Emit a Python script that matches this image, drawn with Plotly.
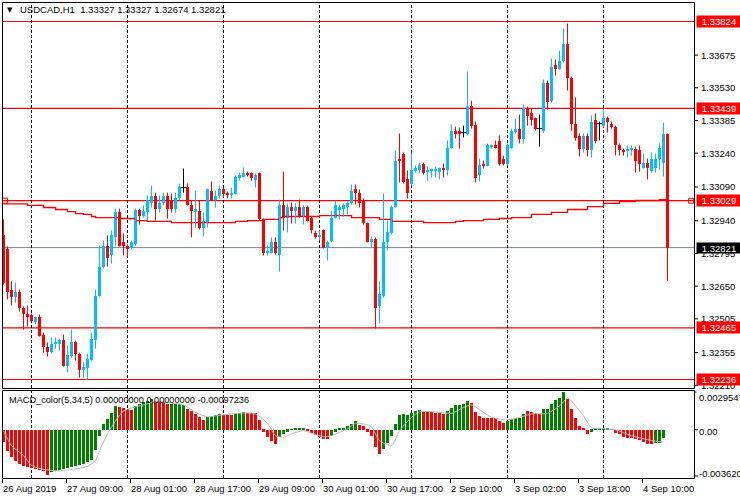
import plotly.graph_objects as go

# ---------------- data (USDCAD H1) ----------------
OPEN = [1.32875, 1.32817, 1.32631, 1.32600, 1.32622, 1.32555, 1.32528, 1.32524, 1.32493, 1.32515,
        1.32435, 1.32382, 1.32360, 1.32395, 1.32395, 1.32413, 1.32298, 1.32342, 1.32404, 1.32351,
        1.32280, 1.32289, 1.32324, 1.32413, 1.32608, 1.32733, 1.32826, 1.32786, 1.32870, 1.32981,
        1.32844, 1.32830, 1.32821, 1.32839, 1.32990, 1.32959, 1.32981, 1.33017, 1.33052, 1.32994,
        1.33017, 1.33052, 1.33034, 1.32994, 1.33039, 1.33087, 1.33092, 1.33012, 1.32977, 1.32985,
        1.32906, 1.32932, 1.33074, 1.33030, 1.33052, 1.33079, 1.33065, 1.33056, 1.33061, 1.33132,
        1.33136, 1.33154, 1.33150, 1.33123, 1.33150, 1.32946, 1.32795, 1.32799, 1.32844, 1.32786,
        1.33012, 1.32954, 1.33003, 1.32985, 1.32999, 1.32959, 1.33003, 1.32954, 1.32888, 1.32866,
        1.32897, 1.32821, 1.32852, 1.32954, 1.32990, 1.32994, 1.33003, 1.33017, 1.33079, 1.33065,
        1.33030, 1.32928, 1.32848, 1.32861, 1.32560, 1.32608, 1.32844, 1.32884, 1.33003, 1.33212,
        1.33238, 1.33127, 1.33101, 1.33163, 1.33167, 1.33194, 1.33158, 1.33163, 1.33163, 1.33158,
        1.33176, 1.33167, 1.33265, 1.33340, 1.33340, 1.33331, 1.33327, 1.33447, 1.33367, 1.33141,
        1.33194, 1.33185, 1.33269, 1.33274, 1.33296, 1.33216, 1.33194, 1.33265, 1.33336, 1.33349,
        1.33305, 1.33442, 1.33416, 1.33394, 1.33349, 1.33340, 1.33549, 1.33473, 1.33629, 1.33615,
        1.33651, 1.33726, 1.33575, 1.33371, 1.33318, 1.33260, 1.33318, 1.33252, 1.33385, 1.33371,
        1.33362, 1.33394, 1.33371, 1.33358, 1.33274, 1.33256, 1.33252, 1.33256, 1.33260, 1.33256,
        1.33176, 1.33198, 1.33163, 1.33172, 1.33216, 1.33198, 1.33327]
HIGH = [1.32946, 1.32826, 1.32671, 1.32666, 1.32635, 1.32560, 1.32564, 1.32528, 1.32515, 1.32524,
        1.32444, 1.32400, 1.32422, 1.32422, 1.32417, 1.32435, 1.32386, 1.32457, 1.32409, 1.32355,
        1.32315, 1.32351, 1.32444, 1.32635, 1.32830, 1.32852, 1.32875, 1.32897, 1.32994, 1.32994,
        1.32884, 1.32835, 1.32852, 1.32994, 1.32994, 1.33008, 1.33052, 1.33096, 1.33065, 1.33052,
        1.33065, 1.33065, 1.33061, 1.33065, 1.33105, 1.33172, 1.33105, 1.33030, 1.33074, 1.33030,
        1.32977, 1.33083, 1.33114, 1.33074, 1.33096, 1.33087, 1.33070, 1.33087, 1.33141, 1.33154,
        1.33176, 1.33158, 1.33154, 1.33150, 1.33154, 1.32950, 1.32830, 1.32866, 1.32866, 1.33034,
        1.33158, 1.33017, 1.33021, 1.33017, 1.33034, 1.33008, 1.33008, 1.32959, 1.32897, 1.32897,
        1.32901, 1.32852, 1.32985, 1.33030, 1.33012, 1.33017, 1.33025, 1.33101, 1.33101, 1.33079,
        1.33039, 1.32932, 1.32870, 1.32866, 1.32671, 1.33061, 1.32941, 1.33008, 1.33252, 1.33327,
        1.33243, 1.33163, 1.33243, 1.33185, 1.33198, 1.33198, 1.33181, 1.33172, 1.33181, 1.33176,
        1.33194, 1.33296, 1.33367, 1.33358, 1.33354, 1.33362, 1.33602, 1.33473, 1.33380, 1.33216,
        1.33207, 1.33283, 1.33278, 1.33296, 1.33318, 1.33229, 1.33283, 1.33349, 1.33394, 1.33411,
        1.33456, 1.33447, 1.33438, 1.33398, 1.33411, 1.33567, 1.33562, 1.33660, 1.33655, 1.33695,
        1.33793, 1.33815, 1.33580, 1.33487, 1.33327, 1.33327, 1.33327, 1.33407, 1.33416, 1.33380,
        1.33438, 1.33402, 1.33380, 1.33362, 1.33283, 1.33260, 1.33274, 1.33274, 1.33269, 1.33274,
        1.33238, 1.33216, 1.33243, 1.33238, 1.33283, 1.33376, 1.33327]
LOW = [1.32657, 1.32591, 1.32564, 1.32577, 1.32537, 1.32457, 1.32471, 1.32493, 1.32480, 1.32426,
       1.32355, 1.32338, 1.32351, 1.32373, 1.32364, 1.32293, 1.32267, 1.32333, 1.32320, 1.32244,
       1.32244, 1.32236, 1.32320, 1.32373, 1.32604, 1.32728, 1.32737, 1.32750, 1.32830, 1.32826,
       1.32786, 1.32781, 1.32812, 1.32830, 1.32923, 1.32954, 1.32941, 1.32999, 1.32941, 1.32977,
       1.33008, 1.32950, 1.32977, 1.32977, 1.33030, 1.33065, 1.33008, 1.32866, 1.32910, 1.32901,
       1.32870, 1.32910, 1.33030, 1.32999, 1.33039, 1.33043, 1.33039, 1.33039, 1.33056, 1.33118,
       1.33132, 1.33136, 1.33118, 1.33087, 1.32941, 1.32786, 1.32786, 1.32795, 1.32790, 1.32715,
       1.32897, 1.32888, 1.32928, 1.32928, 1.32954, 1.32923, 1.32937, 1.32884, 1.32861, 1.32852,
       1.32817, 1.32764, 1.32844, 1.32950, 1.32946, 1.32959, 1.32968, 1.33012, 1.33012, 1.32999,
       1.32923, 1.32844, 1.32821, 1.32462, 1.32484, 1.32600, 1.32808, 1.32879, 1.32999, 1.33110,
       1.33105, 1.33039, 1.33096, 1.33154, 1.33150, 1.33145, 1.33118, 1.33132, 1.33132, 1.33123,
       1.33132, 1.33141, 1.33260, 1.33305, 1.33260, 1.33309, 1.33318, 1.33349, 1.33110, 1.33114,
       1.33172, 1.33181, 1.33260, 1.33260, 1.33185, 1.33185, 1.33185, 1.33260, 1.33327, 1.33283,
       1.33283, 1.33362, 1.33362, 1.33340, 1.33269, 1.33331, 1.33433, 1.33465, 1.33584, 1.33611,
       1.33642, 1.33518, 1.33340, 1.33296, 1.33225, 1.33243, 1.33225, 1.33221, 1.33283, 1.33296,
       1.33354, 1.33331, 1.33349, 1.33229, 1.33229, 1.33229, 1.33221, 1.33229, 1.33154, 1.33158,
       1.33172, 1.33123, 1.33154, 1.33154, 1.33167, 1.33136, 1.32674]
CLOSE = [1.32662, 1.32626, 1.32600, 1.32622, 1.32551, 1.32528, 1.32515, 1.32497, 1.32515, 1.32431,
         1.32378, 1.32360, 1.32395, 1.32400, 1.32409, 1.32298, 1.32346, 1.32404, 1.32351, 1.32280,
         1.32293, 1.32329, 1.32417, 1.32608, 1.32733, 1.32830, 1.32773, 1.32875, 1.32981, 1.32830,
         1.32826, 1.32817, 1.32844, 1.32990, 1.32963, 1.32985, 1.33030, 1.33052, 1.32994, 1.33017,
         1.33052, 1.32994, 1.32994, 1.33039, 1.33092, 1.33087, 1.33012, 1.32985, 1.32994, 1.32906,
         1.32941, 1.33079, 1.33034, 1.33052, 1.33079, 1.33061, 1.33056, 1.33061, 1.33136, 1.33141,
         1.33154, 1.33145, 1.33132, 1.33141, 1.32946, 1.32795, 1.32808, 1.32844, 1.32799, 1.33012,
         1.32954, 1.32999, 1.32985, 1.33003, 1.32959, 1.33003, 1.32941, 1.32901, 1.32866, 1.32879,
         1.32821, 1.32848, 1.32954, 1.33008, 1.33003, 1.33012, 1.33017, 1.33070, 1.33065, 1.33017,
         1.32928, 1.32848, 1.32861, 1.32555, 1.32617, 1.32844, 1.32892, 1.33003, 1.33207, 1.33203,
         1.33110, 1.33065, 1.33167, 1.33176, 1.33189, 1.33150, 1.33163, 1.33167, 1.33167, 1.33172,
         1.33167, 1.33265, 1.33340, 1.33327, 1.33327, 1.33331, 1.33447, 1.33362, 1.33132, 1.33189,
         1.33181, 1.33274, 1.33274, 1.33265, 1.33194, 1.33194, 1.33274, 1.33340, 1.33349, 1.33305,
         1.33442, 1.33407, 1.33389, 1.33349, 1.33349, 1.33549, 1.33465, 1.33624, 1.33615, 1.33651,
         1.33726, 1.33575, 1.33371, 1.33309, 1.33260, 1.33314, 1.33252, 1.33376, 1.33296, 1.33371,
         1.33394, 1.33376, 1.33358, 1.33274, 1.33256, 1.33247, 1.33260, 1.33260, 1.33207, 1.33194,
         1.33198, 1.33176, 1.33216, 1.33216, 1.33265, 1.33327, 1.32821]

# moving average (step line), bar index / price
MA_X = [0, 6, 10, 13, 16, 18, 20, 22, 23, 29, 33, 36, 42, 58, 61, 65, 69, 70, 79, 87,
        94, 97, 105, 113, 115, 120, 124, 127, 132, 137, 141, 146, 150, 154, 158, 164, 166]
MA_Y = [1.33015, 1.33008, 1.32999, 1.32990, 1.32981, 1.32972, 1.32968, 1.32959, 1.32954, 1.32950,
        1.32941, 1.32937, 1.32932, 1.32937, 1.32941, 1.32946, 1.32954, 1.32959, 1.32963, 1.32954,
        1.32946, 1.32937, 1.32932, 1.32937, 1.32941, 1.32946, 1.32950, 1.32954, 1.32968, 1.32977,
        1.32990, 1.33003, 1.33017, 1.33025, 1.33030, 1.33034, 1.33034]

HLINES = [1.33824, 1.33439, 1.33029, 1.32465, 1.32236]
BID = 1.32821
PRICE_TICKS = [1.33675, 1.33530, 1.33385, 1.33240, 1.33090, 1.32940, 1.32795,
               1.32650, 1.32505, 1.32355, 1.32210]
SEPARATORS = [7, 31, 55, 79, 102, 126, 150]
TIME_TICKS = [0, 16, 32, 48, 64, 80, 96, 112, 128, 144, 160]
TIME_LABELS = ["26 Aug 2019", "27 Aug 09:00", "28 Aug 01:00", "28 Aug 17:00", "29 Aug 09:00",
               "30 Aug 01:00", "30 Aug 17:00", "2 Sep 10:00", "3 Sep 02:00", "3 Sep 18:00",
               "4 Sep 10:00"]

# MACD_color(5,34,5) histogram and signal
HIST = [-0.00093, -0.00163, -0.00217, -0.00248, -0.00271, -0.00287, -0.00295, -0.00302, -0.0031, -0.00318,
        -0.00326, -0.00352, -0.00333, -0.00326, -0.00318, -0.0031, -0.00302, -0.00295, -0.00287, -0.00279,
        -0.00271, -0.00256, -0.00233, -0.00155, -0.000465, 0.000465, 0.000853, 0.00132, 0.00186, 0.00178,
        0.00171, 0.00163, 0.00155, 0.00186, 0.00202, 0.00217, 0.00225, 0.0024, 0.00225, 0.00225,
        0.00217, 0.00202, 0.00202, 0.00202, 0.00202, 0.00194, 0.00163, 0.00147, 0.00124, 0.00101,
        0.000775, 0.00101, 0.00109, 0.00116, 0.00124, 0.00116, 0.00116, 0.00116, 0.00124, 0.00132,
        0.0014, 0.00132, 0.00132, 0.00132, 0.000775, -0.000155, -0.000543, -0.000853, -0.00109, -0.000543,
        -0.00031, -0.000155, 0.00004, 0.0000775, 0.0000775, 0.000155, -0.0000775, -0.000233, -0.000388, -0.000543,
        -0.000698, -0.000698, -0.000465, -0.000155, 0.0000775, 0.000155, 0.00031, 0.000465, 0.000698, 0.000388,
        0.00031, -0.000155, -0.000465, -0.00132, -0.00186, -0.00147, -0.00101, -0.000465, 0.000465, 0.00116,
        0.00124, 0.00116, 0.00132, 0.00147, 0.00155, 0.0014, 0.0014, 0.0014, 0.00132, 0.00132,
        0.00124, 0.00147, 0.00171, 0.00194, 0.00194, 0.00202, 0.00225, 0.00209, 0.0014, 0.00109,
        0.00093, 0.00093, 0.00093, 0.00093, 0.000698, 0.000543, 0.000698, 0.000853, 0.00093, 0.00093,
        0.00124, 0.00147, 0.0014, 0.00132, 0.00124, 0.00163, 0.00163, 0.00202, 0.00233, 0.00248,
        0.0029547, 0.0024, 0.00163, 0.00093, 0.00031, 0.0000775, -0.00031, -0.000155, 0.0000775, 0.0000775,
        0.000155, 0.0000775, 0.00002, -0.000233, -0.00031, -0.000543, -0.00062, -0.00062, -0.000698, -0.000775,
        -0.00093, -0.00109, -0.00109, -0.00101, -0.00101, -0.00062]
HIST_COLORS = ("RRRRRRRRRRRR" "GGGGGGGGGGGGGGGGG" "RRRR" "GGGGG" "RRRR" "GGGG" "RRRRR"
               "GGGG" "RRR" "GGG" "RRRRRRRR" "GGGGGGG" "RRRRRR" "GGGGGGG" "RRRRRR" "GGGGGGGGGG"
               "RRRRRR" "GGGGGG" "RRRRRRRRR" "GGGGG" "RRRR" "GGGGGG" "RRRRRR" "GGGGG" "RRRRRRRRRRR" "GGG")
SIG_X = [0, 2, 5, 7, 10, 14, 18, 21, 23, 24, 26, 28, 30, 32, 35, 38, 41, 45, 48, 51,
         53, 57, 61, 63, 66, 68, 70, 72, 75, 77, 80, 82, 86, 88, 91, 92, 94, 97, 99, 102,
         104, 108, 112, 115, 117, 120, 122, 126, 129, 132, 136, 139, 141, 142, 145, 147, 150, 153, 157, 161,
         163, 165]
SIG_Y = [-0.0000775, -0.00124, -0.00202, -0.00279, -0.0031, -0.00322, -0.00306, -0.00287, -0.00240, -0.00163,
         -0.00031, 0.000698, 0.00147, 0.00171, 0.00194, 0.00221, 0.00213, 0.00194, 0.00136, 0.00101,
         0.00109, 0.00124, 0.00132, 0.00124, 0.000504, -0.000465, -0.000581, -0.00031, -0.0000775, -0.000271,
         -0.000543, -0.000465, 0.0000775, 0.000504, 0.000388, 0.000233, -0.000853, -0.00124, -0.0000775, 0.000969,
         0.0014, 0.0014, 0.00128, 0.00174, 0.00194, 0.00136, 0.000969, 0.000775, 0.000969, 0.00124,
         0.00128, 0.00186, 0.00248, 0.00225, 0.00109, 0.000155, 0.0000775, 0.0, -0.000465, -0.000775,
         -0.000891, -0.00097236]
MACD_TICKS = [0.0029547, 0.0, -0.00362]
MACD_TICK_LABELS = ["0.0029547", "0.00", "-0.003620"]

# ---------------- styling ----------------
BLUE = "#00BFFF"
RED = "#FF0000"
GREEN = "#008000"
FONT = "Liberation Sans, Arial, sans-serif"
FS = 9.5

W, H = 740, 500
L, R, T, B = 2, 695, 2, 478


def px(x):
    return (x - L) / (R - L)


def py(y):
    return (B - y) / (B - T)


n = len(OPEN)
idx = list(range(n))
bull = [i for i in idx if CLOSE[i] > OPEN[i]]
bear = [i for i in idx if CLOSE[i] < OPEN[i]]
doji = [i for i in idx if CLOSE[i] == OPEN[i]]


def wicks(ids):
    xs, ys = [], []
    for i in ids:
        xs += [i, i, None]
        ys += [LOW[i], HIGH[i], None]
    return xs, ys


fig = go.Figure()

# MA step line
fig.add_trace(go.Scatter(x=MA_X, y=MA_Y, mode="lines", line=dict(color=RED, width=1.3, shape="hv"),
                         hoverinfo="skip"))

for ids, col in ((bull, BLUE), (bear, RED), (doji, "black")):
    wx, wy = wicks(ids)
    fig.add_trace(go.Scatter(x=wx, y=wy, mode="lines", line=dict(color=col, width=1),
                             hoverinfo="skip"))

fig.add_trace(go.Bar(x=bull, y=[CLOSE[i] - OPEN[i] for i in bull], base=[OPEN[i] for i in bull],
                     width=0.75, marker=dict(color=BLUE, line=dict(width=0)), hoverinfo="skip"))
fig.add_trace(go.Bar(x=bear, y=[OPEN[i] - CLOSE[i] for i in bear], base=[CLOSE[i] for i in bear],
                     width=0.75, marker=dict(color=RED, line=dict(width=0)), hoverinfo="skip"))
fig.add_trace(go.Scatter(x=doji, y=[OPEN[i] for i in doji], mode="markers",
                         marker=dict(symbol="line-ew", size=4, line=dict(color="black", width=1)),
                         hoverinfo="skip"))

# hollow handles of the selected horizontal line
fig.add_trace(go.Scatter(x=[0.4, 171.9], y=[HLINES[2], HLINES[2]], mode="markers",
                         marker=dict(symbol="square-open", size=5, color=RED, line=dict(color=RED, width=1)),
                         hoverinfo="skip"))

# MACD
hx = list(range(len(HIST)))
g = [i for i in hx if HIST_COLORS[i] == "G"]
r = [i for i in hx if HIST_COLORS[i] == "R"]
fig.add_trace(go.Bar(x=g, y=[HIST[i] for i in g], width=0.75, yaxis="y2",
                     marker=dict(color=GREEN, line=dict(width=0)), hoverinfo="skip"))
fig.add_trace(go.Bar(x=r, y=[HIST[i] for i in r], width=0.75, yaxis="y2",
                     marker=dict(color=RED, line=dict(width=0)), hoverinfo="skip"))
fig.add_trace(go.Scatter(x=SIG_X, y=SIG_Y, yaxis="y2", mode="lines",
                         line=dict(color="#B8B8B8", width=1, shape="spline", smoothing=0.6),
                         hoverinfo="skip"))

shapes = []
for v in HLINES:
    shapes.append(dict(type="line", xref="paper", yref="y", x0=0, x1=1, y0=v, y1=v,
                       line=dict(color=RED, width=1.2), layer="below"))
shapes.append(dict(type="line", xref="paper", yref="y", x0=0, x1=1, y0=BID, y1=BID,
                   line=dict(color="#778899", width=1), layer="below"))
for s in SEPARATORS:
    shapes.append(dict(type="line", xref="x", yref="paper", x0=s, x1=s, y0=0, y1=1,
                       line=dict(color="black", width=1, dash="3px,2px"), layer="below"))
# panel frames (placed on pixel centres)
shapes.append(dict(type="rect", xref="paper", yref="paper", x0=px(2.5), x1=px(694.5),
                   y0=py(388.5), y1=py(2.5), line=dict(color="black", width=1)))
shapes.append(dict(type="rect", xref="paper", yref="paper", x0=px(2.5), x1=px(694.5),
                   y0=py(478.5), y1=py(390.5), line=dict(color="black", width=1)))
# right axis ticks
for v in PRICE_TICKS:
    shapes.append(dict(type="line", xref="paper", yref="y", x0=1, x1=px(698), y0=v, y1=v,
                       line=dict(color="black", width=1)))
for v in MACD_TICKS:
    shapes.append(dict(type="line", xref="paper", yref="y2", x0=1, x1=px(698), y0=v, y1=v,
                       line=dict(color="black", width=1)))
# time ticks below the MACD window
for t in TIME_TICKS:
    shapes.append(dict(type="line", xref="x", yref="paper", x0=t - 0.25, x1=t - 0.25,
                       y0=py(479), y1=py(483), line=dict(color="black", width=1)))

ann = []
font = dict(family=FONT, size=FS, color="black")
# title lines
ann.append(dict(xref="paper", yref="paper", x=px(9.5), y=py(9.5), text="\u25BC", showarrow=False,
                xanchor="center", yanchor="middle", font=dict(family="DejaVu Sans", size=7, color="black")))
ann.append(dict(xref="paper", yref="paper", x=px(18), y=py(9.5), showarrow=False, xanchor="left",
                yanchor="middle", font=font,
                text=f"USDCAD,H1\u00a0 {OPEN[-1]:.5f} {HIGH[-1]:.5f} {LOW[-1]:.5f} {CLOSE[-1]:.5f}"))
ann.append(dict(xref="paper", yref="paper", x=px(7), y=py(400), showarrow=False, xanchor="left",
                yanchor="middle", font=dict(family=FONT, size=9.2, color="black"),
                text=f"MACD_color(5,34,5) 0.00000000 0.00000000 {SIG_Y[-1]:.8f}"))
# price scale labels
for v in PRICE_TICKS:
    ann.append(dict(xref="paper", yref="y", x=1, y=v, xanchor="left", yanchor="middle", xshift=5,
                    showarrow=False, text=f"{v:.5f}", font=font, borderpad=0))
# cover the part of the last price label that falls into the MACD window
ann.append(dict(xref="paper", yref="paper", x=1, y=py(391.5), xanchor="left", yanchor="middle",
                xshift=1, showarrow=False, text=" ", width=44, height=4, bgcolor="white", borderpad=0,
                font=dict(size=2)))
# coloured price boxes
for v in HLINES:
    ann.append(dict(xref="paper", yref="y", x=1, y=v, xanchor="left", yanchor="middle", xshift=1,
                    showarrow=False, text=f"{v:.5f}", bgcolor=RED, borderpad=0, width=44, height=11,
                    align="center", font=dict(family=FONT, size=FS, color="white")))
ann.append(dict(xref="paper", yref="y", x=1, y=BID, xanchor="left", yanchor="middle", xshift=1,
                showarrow=False, text=f"{BID:.5f}", bgcolor="black", borderpad=0, width=44, height=10,
                align="center", font=dict(family=FONT, size=FS, color="white")))
# MACD scale labels
for v, t, sh in zip(MACD_TICKS, MACD_TICK_LABELS, (-6, -2, 3)):
    ann.append(dict(xref="paper", yref="y2", x=1, y=v, xanchor="left", yanchor="middle", xshift=3,
                    yshift=sh, showarrow=False, text=t, font=font, borderpad=0))
# time labels
for t, lab in zip(TIME_TICKS, TIME_LABELS):
    ann.append(dict(xref="x", yref="paper", x=t, y=py(488.5), xanchor="left", yanchor="middle",
                    xshift=-2, showarrow=False, text=lab, font=font, borderpad=0))

# price scale: 1.33824 sits on pixel row 21 (centre 21.5), 0.00004436 per pixel
fig.update_layout(
    width=W, height=H,
    margin=dict(l=L, r=W - R, t=T, b=H - B, pad=0),
    paper_bgcolor="white", plot_bgcolor="white",
    showlegend=False, barmode="overlay", bargap=0, hovermode=False,
    xaxis=dict(range=[-0.375, 172.875], visible=False, fixedrange=True),
    yaxis=dict(domain=[py(388), 1], range=[1.321982, 1.339105], visible=False, fixedrange=True),
    yaxis2=dict(domain=[0, py(390)], range=[-0.003775, 0.00311], visible=False, fixedrange=True,
                anchor="x"),
    shapes=shapes, annotations=ann,
)

fig.write_html("out.html", config={"displayModeBar": False})
